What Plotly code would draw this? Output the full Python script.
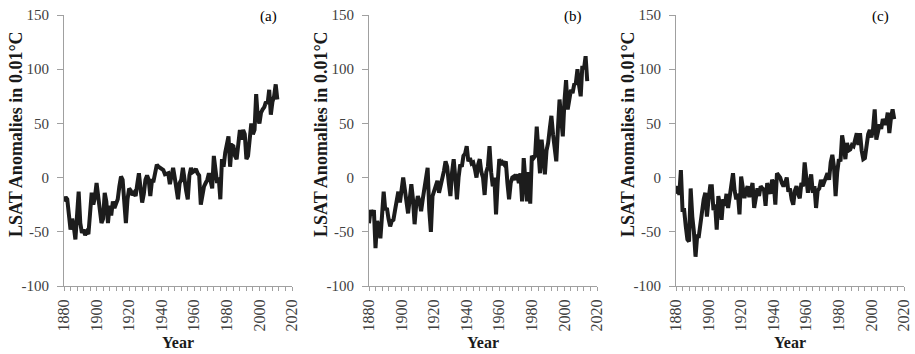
import plotly.graph_objects as go

years_a = list(range(1880, 2012))
lsat_a = [-22, -18, -20, -35, -48, -38, -45, -57, -40, -13,
          -42, -51, -48, -53, -50, -52, -33, -14, -25, -18,
          -5, -17, -30, -42, -38, -14, -22, -42, -26, -35,
          -22, -28, -24, -20, -8, 1, -2, -25, -42, -20,
          -10, -12, -16, -14, -17, -6, 4, -10, -23, -15,
          -2, 2, -2, -17, -3, -3, 5, 12, 10, 9,
          8, 7, 3, 4, 4, -6, 2, 9, 0, -8,
          -20, -5, -2, 9, -5, -12, -20, 2, 9, 5,
          6, 8, 4, 2, -25, -15, -8, -5, -2, 4,
          -6, -10, 20, 5, -5, 0, -20, 17, 10, 23,
          30, 38, 10, 30, 29, 20, 17, 30, 44, 35,
          44, 40, 17, 20, 40, 50, 40, 44, 77, 55,
          50, 60, 63, 65, 70, 68, 81, 58, 70, 75,
          86, 72]

years_b = list(range(1880, 2015))
lsat_b = [-42, -30, -35, -30, -65, -40, -45, -56, -35, -13,
          -30, -28, -38, -45, -40, -39, -30, -20, -13, -23,
          -10, 0, -11, -25, -33, -20, -6, -20, -43, -25,
          -17, -22, -31, -20, -11, -2, 9, -30, -50, -17,
          -12, -8, -3, -14, -8, 0, 6, 15, 10, -5,
          -17, 5, 17, 0, -20, 0, 12, 10, 20, 22,
          29, 15, 18, 13, 14, 8, 0, 12, 17, 5,
          0, -16, 5, 10, 29, 5, -8, 0, -34, -5,
          17, 12, 14, 12, 15, -5, -20, -5, 0, 1,
          -2, 3, -5, 4, -22, 18, -10, -22, 5, -24,
          20, 18, 20, 47, 25, 4, 35, 15, 3, 25,
          32, 45, 57, 40, 30, 15, 45, 72, 55, 38,
          70, 90, 63, 75, 81, 78, 86, 87, 100, 85,
          75, 103, 100, 112, 89]

years_c = list(range(1880, 2015))
lsat_c = [-15, -8, -16, 7, -30, -30, -45, -57, -59, -10,
          -36, -50, -73, -54, -54, -40, -30, -20, -14, -36,
          -20, -8, -8, -30, -25, -48, -17, -25, -39, -20,
          -26, -15, -28, -18, -10, 4, -12, -20, -15, -34,
          1, -8, -19, -12, -8, -18, -12, -5, -28, -15,
          -10, -17, -8, -10, -11, -26, -5, -11, -15, -2,
          -5, -25, 4, 2, 0, -5, -8, -5, 0, -13,
          -10, -20, -25, -12, -8, -15, -19, -5, -8, 14,
          -5, -14, -5, 3, -14, -8, -28, -12, -10, -2,
          -8, -5, 0, 4, -2, 14, 21, 10, -17, 5,
          17, 15, 39, 30, 17, 32, 25, 26, 30, 29,
          35, 41, 30, 41, 25, 17, 18, 29, 40, 44,
          37, 45, 63, 35, 45, 49, 45, 54, 50, 50,
          60, 41, 55, 63, 54]

panel_labels = ["(a)", "(b)", "(c)"]
y_title = "LSAT Anomalies in 0.01°C"
x_title = "Year"
x_ticks = [1880, 1900, 1920, 1940, 1960, 1980, 2000, 2020]
x_ticktext = ["1880", "1900", "1920", "1940", "1960", "1980", "2000", "2020"]
y_ticks = [-100, -50, 0, 50, 100, 150]
y_ticktext = ["-100", "-50", "0", "50", "100", "150"]

W, H = 915, 354
px_left = [64, 369, 676]
px_right = [292, 597, 904]
py_top, py_bot = 15, 286

fig = go.Figure()
series = [(years_a, lsat_a), (years_b, lsat_b), (years_c, lsat_c)]
font_fam = "Liberation Serif, Times New Roman, serif"

layout = dict(
    width=W, height=H,
    margin=dict(l=0, r=0, t=0, b=0, autoexpand=False),
    paper_bgcolor="white", plot_bgcolor="white",
    showlegend=False,
    font=dict(family=font_fam, size=14, color="#404040"),
)
annotations = []
for i, (xs, ys) in enumerate(series):
    n = "" if i == 0 else str(i + 1)
    fig.add_trace(go.Scatter(x=xs, y=ys, mode="lines",
                             line=dict(color="#1c1c1c", width=4),
                             xaxis="x" + n, yaxis="y" + n, hoverinfo="skip"))
    layout["xaxis" + n] = dict(
        domain=[px_left[i] / W, px_right[i] / W], automargin=False,
        range=[1880, 2020], tickmode="array", tickvals=x_ticks, ticktext=x_ticktext,
        ticks="outside", ticklen=4, tickcolor="#a0a0a0",
        tickangle=-90, showgrid=False, zeroline=False,
        showline=True, linecolor="#a0a0a0", linewidth=1,
        anchor="y" + n, ticklabelstandoff=2,
        minor=dict(dtick=4, tick0=1880, ticks="outside", ticklen=4, tickcolor="#a0a0a0", showgrid=False),
        tickfont=dict(family=font_fam, size=16, color="#404040"),
    )
    layout["yaxis" + n] = dict(
        domain=[1 - py_bot / H, 1 - py_top / H], automargin=False,
        range=[-100, 150], tickmode="array", tickvals=y_ticks, ticktext=y_ticktext,
        ticks="outside", ticklen=6, tickcolor="#a0a0a0",
        showgrid=False, zeroline=False,
        showline=True, linecolor="#a0a0a0", linewidth=1,
        anchor="x" + n, ticklabelstandoff=5,
        tickfont=dict(family=font_fam, size=15, color="#404040"),
    )
    annotations.append(dict(
        text=panel_labels[i], xref="paper", yref="paper",
        x=(px_right[i] - 24) / W, y=1 - 16 / H, showarrow=False,
        xanchor="center", yanchor="middle",
        font=dict(family=font_fam, size=15, color="#000000")))
    annotations.append(dict(
        text="<b>" + y_title + "</b>", xref="paper", yref="paper",
        x=(px_left[i] - 48) / W, y=1 - 134 / H, textangle=-90, showarrow=False,
        xanchor="center", yanchor="middle",
        font=dict(family=font_fam, size=18, color="#1a1a1a")))
    annotations.append(dict(
        text="<b>" + x_title + "</b>", xref="paper", yref="paper",
        x=(px_left[i] + px_right[i]) / 2 / W, y=1 - 342 / H, showarrow=False,
        xanchor="center", yanchor="middle",
        font=dict(family=font_fam, size=16, color="#1a1a1a")))

layout["annotations"] = annotations
fig.update_layout(**layout)
fig.write_html("out.html", config={"displayModeBar": False},
               post_script="document.body.style.margin='0';document.body.style.overflow='hidden';")
